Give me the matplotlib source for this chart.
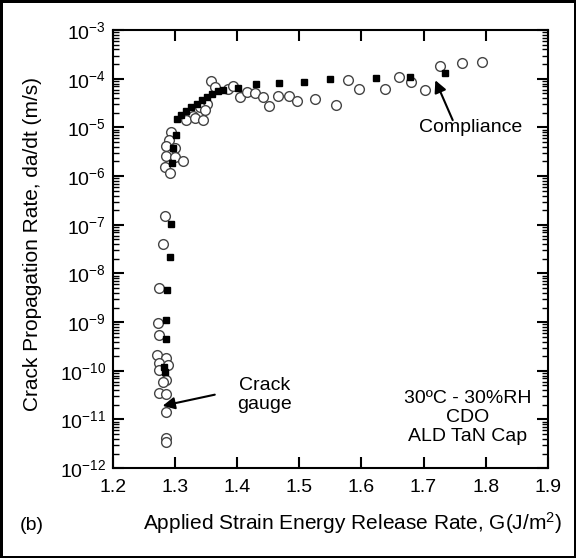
import matplotlib.pyplot as plt
import numpy as np

plt.rcParams["font.family"] = ["Liberation Sans", "DejaVu Sans"]
plt.rcParams["mathtext.fontset"] = "custom"
plt.rcParams["mathtext.rm"] = "Liberation Sans"
plt.rcParams["mathtext.it"] = "Liberation Sans:italic"
plt.rcParams["axes.unicode_minus"] = False

# ---- data: filled squares (compliance method) ----
sq_G = [1.295, 1.297, 1.301, 1.303, 1.310, 1.317, 1.325, 1.335, 1.343, 1.351,
        1.359, 1.369, 1.377, 1.401, 1.431, 1.467, 1.507, 1.550, 1.623, 1.678,
        1.735, 1.293, 1.292, 1.287, 1.286, 1.285, 1.282, 1.284]
sq_rate = [1.9e-6, 3.7e-6, 6.9e-6, 1.5e-5, 1.8e-5, 2.2e-5, 2.6e-5, 3.1e-5, 3.6e-5, 4.2e-5,
           4.9e-5, 5.6e-5, 6.0e-5, 6.6e-5, 7.8e-5, 8.1e-5, 8.7e-5, 9.8e-5, 1.05e-4, 1.1e-4,
           1.3e-4, 1.05e-7, 2.2e-8, 4.5e-9, 1.1e-9, 4.5e-10, 1.2e-10, 9.5e-11]

# ---- data: open circles (crack gauge) ----
ci_G = [1.358, 1.365, 1.385, 1.393, 1.404, 1.416, 1.428, 1.441, 1.451, 1.466,
        1.483, 1.497, 1.526, 1.559, 1.578, 1.596, 1.638, 1.661, 1.680, 1.703,
        1.727, 1.762, 1.794, 1.351, 1.340, 1.348, 1.329, 1.318, 1.332, 1.345,
        1.294, 1.290, 1.285, 1.300, 1.286, 1.300, 1.313, 1.284, 1.292, 1.284,
        1.281, 1.274, 1.273, 1.274, 1.271, 1.285, 1.275, 1.289, 1.275, 1.285,
        1.275, 1.286, 1.281, 1.285, 1.285, 1.285]
ci_rate = [9.1e-5, 6.9e-5, 6.3e-5, 7.1e-5, 4.3e-5, 5.4e-5, 5.1e-5, 4.2e-5, 2.75e-5, 4.4e-5,
           4.4e-5, 3.5e-5, 3.8e-5, 2.9e-5, 9.3e-5, 6.2e-5, 6.3e-5, 1.07e-4, 8.7e-5, 5.9e-5,
           1.8e-4, 2.1e-4, 2.2e-4, 3.1e-5, 2.6e-5, 2.3e-5, 1.7e-5, 1.4e-5, 1.55e-5, 1.4e-5,
           8.1e-6, 5.6e-6, 4.2e-6, 3.7e-6, 2.6e-6, 2.5e-6, 2.0e-6, 1.55e-6, 1.15e-6, 1.5e-7,
           4.0e-8, 5.0e-9, 9.8e-10, 5.5e-10, 2.1e-10, 1.8e-10, 1.45e-10, 1.3e-10, 1.05e-10, 6.5e-11,
           3.5e-11, 3.4e-11, 6.0e-11, 1.45e-11, 4.2e-12, 3.5e-12]

x_ticks = [1.2, 1.3, 1.4, 1.5, 1.6, 1.7, 1.8, 1.9]

fig = plt.figure(figsize=(5.76, 5.58), dpi=100, linewidth=2.5, edgecolor="black")
ax = fig.add_axes([0.196, 0.161, 0.755, 0.785])

ax.plot(ci_G, ci_rate, "o", mfc="white", mec="#444444", ms=7, mew=1.0, ls="none")
ax.plot(sq_G, sq_rate, "s", color="black", ms=5, ls="none")

ax.set_yscale("log")
ax.set_xlim(1.2, 1.9)
ax.set_ylim(1e-12, 1e-3)
ax.set_xticks(x_ticks)
ax.set_xticklabels([f"{t:.1f}" for t in x_ticks])
ax.set_yticks([10.0 ** k for k in range(-12, -2)])
ax.tick_params(which="major", direction="in", length=8, width=1.5, labelsize=14,
               top=True, right=True)
ax.tick_params(axis="x", pad=8)
ax.tick_params(axis="y", pad=5)
ax.tick_params(which="minor", direction="in", length=4, width=1, right=True)
ax.xaxis.set_minor_locator(plt.NullLocator())
for s in ax.spines.values():
    s.set_linewidth(1.5)

arrow = dict(arrowstyle="-|>", color="black", lw=1.5, mutation_scale=18,
             shrinkA=0, shrinkB=0)
ax.annotate("", xy=(1.280, 10 ** -10.72), xytext=(1.364, 10 ** -10.49), arrowprops=arrow)
ax.text(1.444, 10 ** -10.49, "Crack\ngauge", ha="center", va="center", fontsize=14,
        linespacing=1.15)
ax.annotate("", xy=(1.719, 10 ** -4.03), xytext=(1.747, 10 ** -4.85), arrowprops=arrow)
ax.text(1.776, 10 ** -5.0, "Compliance", ha="center", va="center", fontsize=14)
ax.text(1.771, 10 ** -10.95, "30ºC - 30%RH\nCDO\nALD TaN Cap", ha="center", va="center",
        fontsize=14, linespacing=1.15)

fig.text(0.057, 0.563, "Crack Propagation Rate, da/dt (m/s)", rotation=90,
         ha="center", va="center", fontsize=15)
fig.text(0.612, 0.063, "Applied Strain Energy Release Rate, G(J/m$^2$)",
         ha="center", va="center", fontsize=15)
fig.text(0.035, 0.058, "(b)", ha="left", va="center", fontsize=14)

fig.savefig("out.png", dpi=100, edgecolor=fig.get_edgecolor())
